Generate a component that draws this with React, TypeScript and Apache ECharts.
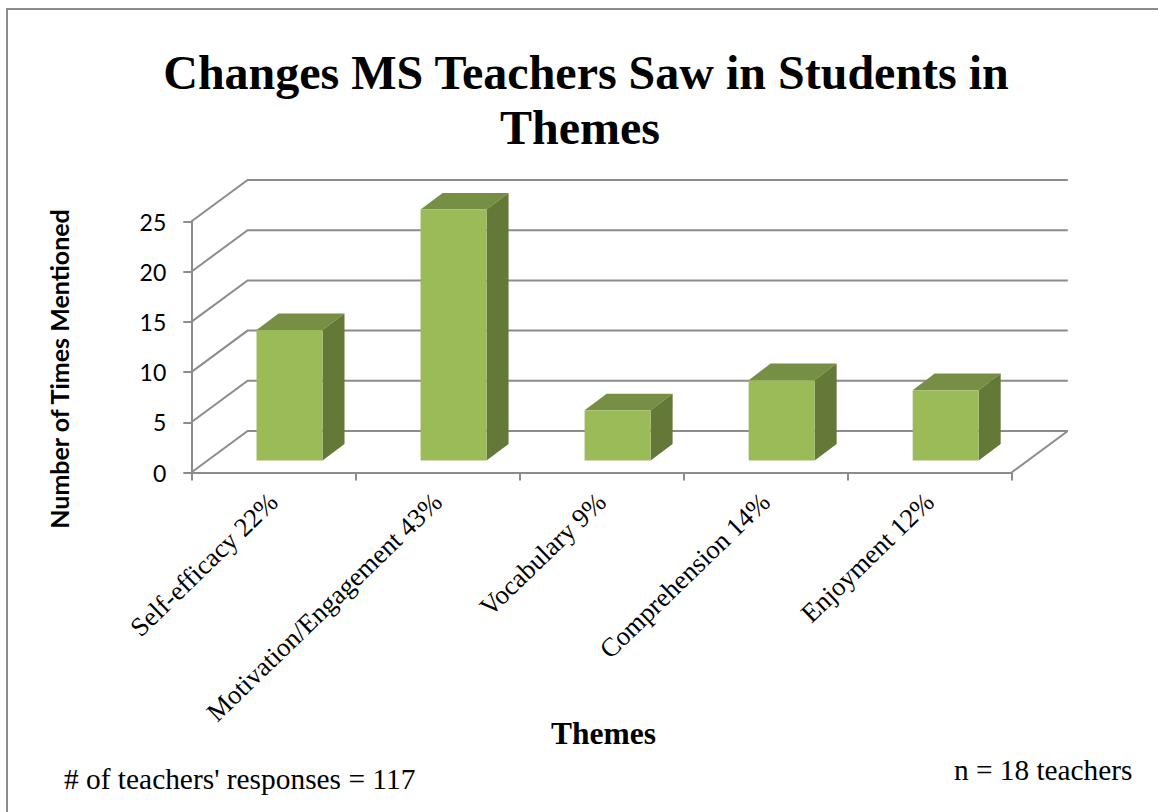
import React, { useEffect, useRef } from "react";
import * as echarts from "echarts";

const categories = [
  "Self-efficacy 22%",
  "Motivation/Engagement 43%",
  "Vocabulary 9%",
  "Comprehension 14%",
  "Enjoyment 12%",
];
const mentions = [13, 25, 5, 8, 7];
const wallTicks = [0, 5, 10, 15, 20, 25];

const titleText = "Changes MS Teachers Saw in Students in\nThemes ";
const yAxisTitle = "Number of Times Mentioned";
const xAxisTitle = "Themes";
const responsesNote = "# of teachers' responses = 117";
const teachersNote = "n = 18 teachers";

const SERIF = '"Liberation Serif", "Times New Roman", serif';
const GRAY = "#8c8c8c";
const DEPTH_X = 56.3;
const DEPTH_Y = -41.5;
const BAR_DX = 22;
const BAR_DY = -16.6;
const BAR_OFFSET_DX = 16.2;
const BAR_OFFSET_DY = -12;
const BAR_W = 66;

export default function App() {
  const ref = useRef<HTMLDivElement>(null);
  useEffect(() => {
    const chart = echarts.init(ref.current!, null, { renderer: "svg" });
    const lineStyle = { stroke: GRAY, lineWidth: 2, fill: "none" };
    chart.setOption({
      animation: false,
      backgroundColor: "#fff",
      title: {
        text: titleText,
        left: 581,
        top: 40,
        textAlign: "center",
        textStyle: {
          fontFamily: SERIF,
          fontWeight: "bold",
          fontSize: 48,
          lineHeight: 55,
          color: "#000",
        },
      },
      grid: { left: 191.3, right: 146.5, top: 221.5, bottom: 339.5, containLabel: false },
      xAxis: {
        type: "category",
        data: categories,
        name: xAxisTitle,
        nameLocation: "middle",
        nameGap: 245,
        nameMoveOverlap: false,
        nameTextStyle: {
          fontFamily: SERIF,
          fontWeight: "bold",
          fontSize: 31.5,
          color: "#000",
          padding: [0, 0, 0, 4],
        },
        axisLine: { lineStyle: { color: GRAY, width: 2 } },
        axisTick: { show: true, length: 8, lineStyle: { color: GRAY, width: 2 } },
        axisLabel: {
          rotate: 44,
          interval: 0,
          margin: 25,
          fontFamily: SERIF,
          fontSize: 26.7,
          color: "#000",
        },
      },
      yAxis: {
        type: "value",
        min: 0,
        max: 25,
        interval: 5,
        name: yAxisTitle,
        nameLocation: "middle",
        nameGap: 120,
        nameMoveOverlap: false,
        nameTextStyle: {
          fontFamily: "Lato, sans-serif",
          fontWeight: "bold",
          fontSize: 25,
          color: "#000",
          padding: [0, 44, 0, 0],
        },
        splitLine: { show: false },
        axisLine: { show: true, lineStyle: { color: GRAY, width: 2 } },
        axisTick: { show: true, length: 8, lineStyle: { color: GRAY, width: 2 } },
        axisLabel: {
          margin: 25,
          fontFamily: "Lato, sans-serif",
          fontSize: 23,
          color: "#000",
        },
      },
      series: [
        {
          type: "custom",
          name: "Walls",
          silent: true,
          z: 1,
          data: wallTicks.map((v) => [0, v]),
          encode: { x: 0, y: 1 },
          renderItem: (_p: any, api: any) => {
            const band = api.size([1, 0])[0];
            const [cx, y] = api.coord([0, api.value(1)]);
            const left = cx - band / 2;
            const right = left + band * categories.length;
            const children: any[] = [
              {
                type: "polyline",
                shape: {
                  points: [
                    [left, y],
                    [left + DEPTH_X, y + DEPTH_Y],
                    [right + DEPTH_X, y + DEPTH_Y],
                  ],
                },
                style: lineStyle,
              },
            ];
            if (api.value(1) === 0) {
              children.push({
                type: "line",
                shape: { x1: right, y1: y, x2: right + DEPTH_X, y2: y + DEPTH_Y },
                style: lineStyle,
              });
            }
            return { type: "group", children };
          },
        },
        {
          type: "custom",
          name: "Number of Times Mentioned",
          z: 3,
          data: mentions.map((v, i) => [i, v]),
          encode: { x: 0, y: 1 },
          renderItem: (_p: any, api: any) => {
            const [cx, top0] = api.coord([api.value(0), api.value(1)]);
            const [, base0] = api.coord([api.value(0), 0]);
            const x0 = cx + BAR_OFFSET_DX - BAR_W / 2;
            const x1 = x0 + BAR_W;
            const top = top0 + BAR_OFFSET_DY;
            const base = base0 + BAR_OFFSET_DY;
            return {
              type: "group",
              children: [
                {
                  type: "polygon",
                  shape: {
                    points: [
                      [x0, top],
                      [x0 + BAR_DX, top + BAR_DY],
                      [x1 + BAR_DX, top + BAR_DY],
                      [x1, top],
                    ],
                  },
                  style: { fill: "#778E45" },
                },
                {
                  type: "polygon",
                  shape: {
                    points: [
                      [x1, top],
                      [x1 + BAR_DX, top + BAR_DY],
                      [x1 + BAR_DX, base + BAR_DY],
                      [x1, base],
                    ],
                  },
                  style: { fill: "#647837" },
                },
                {
                  type: "rect",
                  shape: { x: x0, y: top, width: BAR_W, height: base - top },
                  style: { fill: "#9BBB59" },
                },
              ],
            };
          },
        },
      ],
      graphic: [
        {
          type: "polyline",
          shape: { points: [[7, 812], [7, 9], [1158, 9]] },
          style: { stroke: GRAY, lineWidth: 2, fill: "none" },
        },
        {
          type: "text",
          x: 64,
          y: 779,
          style: {
            text: responsesNote,
            fontFamily: SERIF,
            fontSize: 29.4,
            fill: "#000",
            textVerticalAlign: "middle",
          },
        },
        {
          type: "text",
          x: 954,
          y: 770,
          style: {
            text: teachersNote,
            fontFamily: SERIF,
            fontSize: 29.3,
            fill: "#000",
            textVerticalAlign: "middle",
          },
        },
      ],
    });
    return () => chart.dispose();
  }, []);
  return (
    <div
      ref={ref}
      style={{ position: "fixed", left: 0, top: 0, width: 1158, height: 812 }}
    />
  );
}
